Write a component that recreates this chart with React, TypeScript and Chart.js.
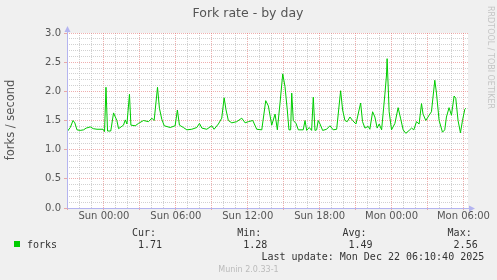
import { useEffect, useRef } from 'react';
import { Chart, registerables } from 'chart.js';

Chart.register(...registerables);

const chartTitle = 'Fork rate - by day';
const yAxisTitle = 'forks / second';
const sideText = 'RRDTOOL / TOBI OETIKER';
const seriesName = 'forks';
const statLabels = ['Cur:', 'Min:', 'Avg:', 'Max:'];
const statValues = ['1.71', '1.28', '1.49', '2.56'];
const lastUpdate = 'Last update: Mon Dec 22 06:10:40 2025';
const footer = 'Munin 2.0.33-1';

// hours relative to Sun 00:00
const xMin = -3.083;
const xMax = 30.38;
const hours = [
  -3.03, -2.81, -2.58, -2.43, -2.25, -1.98, -1.7, -1.48, -1.14, -0.89, -0.58, -0.08,
  0.05, 0.17, 0.3, 0.57, 0.8, 1.08, 1.22, 1.63, 1.78, 1.92, 2.13, 2.25, 2.61, 2.88,
  3.3, 3.72, 4.0, 4.19, 4.47, 4.63, 4.83, 5.03, 5.53, 5.94, 6.13, 6.3, 6.63, 6.92,
  7.33, 7.75, 7.97, 8.17, 8.58, 9.0, 9.19, 9.55, 9.83, 10.03, 10.19, 10.38, 10.67,
  11.08, 11.5, 11.78, 12.05, 12.42, 12.75, 13.17, 13.5, 13.72, 14.0, 14.28, 14.47,
  14.69, 14.92, 15.11, 15.3, 15.44, 15.58, 15.67, 15.8, 16.03, 16.22, 16.63, 16.78,
  16.92, 17.13, 17.33, 17.47, 17.61, 17.75, 17.88, 18.03, 18.25, 18.58, 18.86, 19.13,
  19.42, 19.75, 19.92, 20.11, 20.3, 20.53, 20.75, 21.03, 21.42, 21.58, 21.78, 22.05,
  22.19, 22.42, 22.61, 22.8, 22.97, 23.17, 23.44, 23.58, 23.63, 23.8, 24.0, 24.28,
  24.55, 24.75, 24.97, 25.19, 25.47, 25.67, 25.86, 26.08, 26.3, 26.5, 26.63, 26.86,
  27.13, 27.33, 27.61, 27.75, 27.97, 28.25, 28.44, 28.58, 28.8, 29.0, 29.22, 29.36,
  29.55, 29.75, 29.92, 30.11, 30.19,
];
const forks = [
  1.32, 1.38, 1.5, 1.46, 1.34, 1.33, 1.34, 1.37, 1.39, 1.36, 1.35, 1.35,
  1.31, 2.07, 1.32, 1.32, 1.63, 1.5, 1.36, 1.42, 1.51, 1.44, 1.95, 1.42, 1.41, 1.45,
  1.5, 1.48, 1.54, 1.5, 2.07, 1.71, 1.52, 1.41, 1.38, 1.41, 1.68, 1.42, 1.38, 1.34,
  1.35, 1.38, 1.45, 1.37, 1.35, 1.41, 1.35, 1.44, 1.54, 1.89, 1.68, 1.5, 1.46,
  1.48, 1.54, 1.46, 1.48, 1.5, 1.35, 1.34, 1.84, 1.75, 1.42, 1.61, 1.34,
  1.79, 2.3, 2.08, 1.68, 1.34, 1.34, 1.97, 1.5, 1.45, 1.34, 1.34, 1.5,
  1.33, 1.38, 1.33, 1.9, 1.33, 1.34, 1.5, 1.44, 1.33, 1.35, 1.41, 1.34,
  1.35, 2.01, 1.68, 1.5, 1.48, 1.56, 1.5, 1.44, 1.8, 1.48, 1.37, 1.4,
  1.35, 1.65, 1.56, 1.37, 1.44, 1.34, 1.94, 2.28, 2.56, 1.65, 1.34, 1.45,
  1.72, 1.54, 1.34, 1.28, 1.33, 1.37, 1.34, 1.48, 1.44, 1.79, 1.61, 1.5,
  1.59, 1.65, 2.19, 1.97, 1.5, 1.3, 1.34, 1.56, 1.72, 1.59, 1.92, 1.88,
  1.5, 1.29, 1.5, 1.69, 1.71,
];
const dayNames = ['Sat', 'Sun', 'Mon'];
const yMax = 3.0;

const LINE = '#00cc00';
const AXIS = '#b4b4f0';
const MINOR = 'rgba(190,190,190,0.7)';
const MAJOR = 'rgba(225,110,110,0.55)';

function xLabel(v: number): string {
  if (Math.round(v) % 6 !== 0) return '';
  const d = Math.floor(v / 24) + 1;
  const h = ((Math.round(v) % 24) + 24) % 24;
  return `${dayNames[d]} ${String(h).padStart(2, '0')}:00`;
}

const decorPlugin = {
  id: 'decor',
  beforeDraw(chart: any) {
    const { ctx, chartArea: a } = chart;
    ctx.save();
    ctx.fillStyle = '#f0f0f0';
    ctx.fillRect(0, 0, chart.width, chart.height);
    ctx.fillStyle = '#ffffff';
    ctx.fillRect(a.left, a.top, a.right - a.left, a.bottom - a.top);
    ctx.restore();
  },
  afterDraw(chart: any) {
    const { ctx, chartArea: a } = chart;
    ctx.save();
    // axes
    const ax = Math.round(a.left) + 0.5;
    const ay = Math.round(a.bottom) + 0.5;
    ctx.strokeStyle = AXIS;
    ctx.fillStyle = AXIS;
    ctx.lineWidth = 1;
    ctx.beginPath();
    ctx.moveTo(ax, a.top - 2);
    ctx.lineTo(ax, ay);
    ctx.lineTo(a.right + 2, ay);
    ctx.stroke();
    ctx.beginPath();
    ctx.moveTo(ax - 3, a.top - 1);
    ctx.lineTo(ax + 3, a.top - 1);
    ctx.lineTo(ax, a.top - 7);
    ctx.closePath();
    ctx.fill();
    ctx.beginPath();
    ctx.moveTo(a.right + 1, ay - 3);
    ctx.lineTo(a.right + 1, ay + 3);
    ctx.lineTo(a.right + 7, ay);
    ctx.closePath();
    ctx.fill();

    // title
    ctx.fillStyle = '#555555';
    ctx.textBaseline = 'middle';
    ctx.textAlign = 'center';
    ctx.font = '12.5px "DejaVu Sans"';
    ctx.fillText(chartTitle, 248, 13.5);

    // y axis title
    ctx.save();
    ctx.translate(11, 120);
    ctx.rotate(-Math.PI / 2);
    ctx.font = '11.5px "DejaVu Sans"';
    ctx.fillText(yAxisTitle, 0, 0);
    ctx.restore();

    // side text
    ctx.save();
    ctx.translate(490, 6);
    ctx.rotate(Math.PI / 2);
    ctx.textAlign = 'left';
    ctx.fillStyle = '#c4c4c4';
    ctx.font = '8px "DejaVu Sans"';
    ctx.fillText(sideText, 0, 0);
    ctx.restore();

    // legend
    ctx.fillStyle = LINE;
    ctx.fillRect(14, 241, 6, 6);
    ctx.fillStyle = '#333333';
    ctx.textAlign = 'left';
    ctx.font = '10px "DejaVu Sans Mono"';
    ctx.fillText(seriesName, 27, 245);
    statLabels.forEach((l, i) => {
      const x = 132 + i * 105.2;
      ctx.fillText(l, x, 233.5);
      ctx.fillText(statValues[i], x + 6, 245);
    });
    ctx.fillText(lastUpdate, 261.5, 257.5);

    ctx.textAlign = 'center';
    ctx.fillStyle = '#bbbbbb';
    ctx.font = '8px "DejaVu Sans"';
    ctx.fillText(footer, 248.5, 269.5);
    ctx.restore();
  },
};

export default function App() {
  const ref = useRef<HTMLCanvasElement>(null);
  useEffect(() => {
    if (!ref.current) return;
    Chart.defaults.font.family = '"DejaVu Sans"';
    const chart = new Chart(ref.current, {
      type: 'line',
      data: {
        datasets: [
          {
            label: seriesName,
            data: hours.map((h, i) => ({ x: h, y: forks[i] })),
            borderColor: LINE,
            borderWidth: 1,
            pointRadius: 0,
            tension: 0,
            fill: false,
          },
        ],
      },
      options: {
        animation: false,
        responsive: false,
        events: [],
        layout: { padding: { top: 33, right: 29, left: 0, bottom: 0 } },
        plugins: { legend: { display: false }, tooltip: { enabled: false }, title: { display: false } },
        scales: {
          x: {
            type: 'linear',
            min: xMin,
            max: xMax,
            afterBuildTicks: (s: any) => {
              const t = [];
              for (let v = Math.ceil(xMin); v <= Math.floor(xMax); v++) t.push({ value: v });
              s.ticks = t;
            },
            afterFit: (s: any) => {
              s.height = 72;
            },
            ticks: {
              autoSkip: false,
              maxRotation: 0,
              padding: 0,
              color: '#555555',
              font: { size: 10 },
              callback: (v: any) => xLabel(Number(v)),
            },
            grid: {
              color: (c: any) => (c.tick && Math.round(c.tick.value) % 3 === 0 ? MAJOR : MINOR),
              tickColor: (c: any) => (c.tick && Math.round(c.tick.value) % 3 === 0 ? MAJOR : 'rgba(0,0,0,0)'),
              tickLength: 2,
              lineWidth: 1,
            },
            border: { display: false, dash: [1, 1] },
          },
          y: {
            type: 'linear',
            min: 0,
            max: yMax,
            afterBuildTicks: (s: any) => {
              const t = [];
              for (let i = 0; i <= 30; i++) t.push({ value: i / 10 });
              s.ticks = t;
            },
            afterFit: (s: any) => {
              s.width = 67;
            },
            ticks: {
              autoSkip: false,
              padding: 3,
              color: '#555555',
              font: { size: 10 },
              callback: (v: any) => {
                const n = Math.round(Number(v) * 10);
                return n % 5 === 0 ? (n / 10).toFixed(1) : '';
              },
            },
            grid: {
              color: (c: any) => (c.tick && Math.round(c.tick.value * 10) % 5 === 0 ? MAJOR : MINOR),
              tickColor: (c: any) => (c.tick && Math.round(c.tick.value * 10) % 5 === 0 ? MAJOR : 'rgba(0,0,0,0)'),
              tickLength: 3,
              lineWidth: 1,
            },
            border: { display: false, dash: [1, 1] },
          },
        },
      },
      plugins: [decorPlugin],
    } as any);
    return () => chart.destroy();
  }, []);
  return (
    <div style={{ position: 'fixed', left: 0, top: 0, width: 497, height: 280, background: '#f0f0f0' }}>
      <canvas ref={ref} width={497} height={280} style={{ width: 497, height: 280, display: 'block' }} />
    </div>
  );
}
